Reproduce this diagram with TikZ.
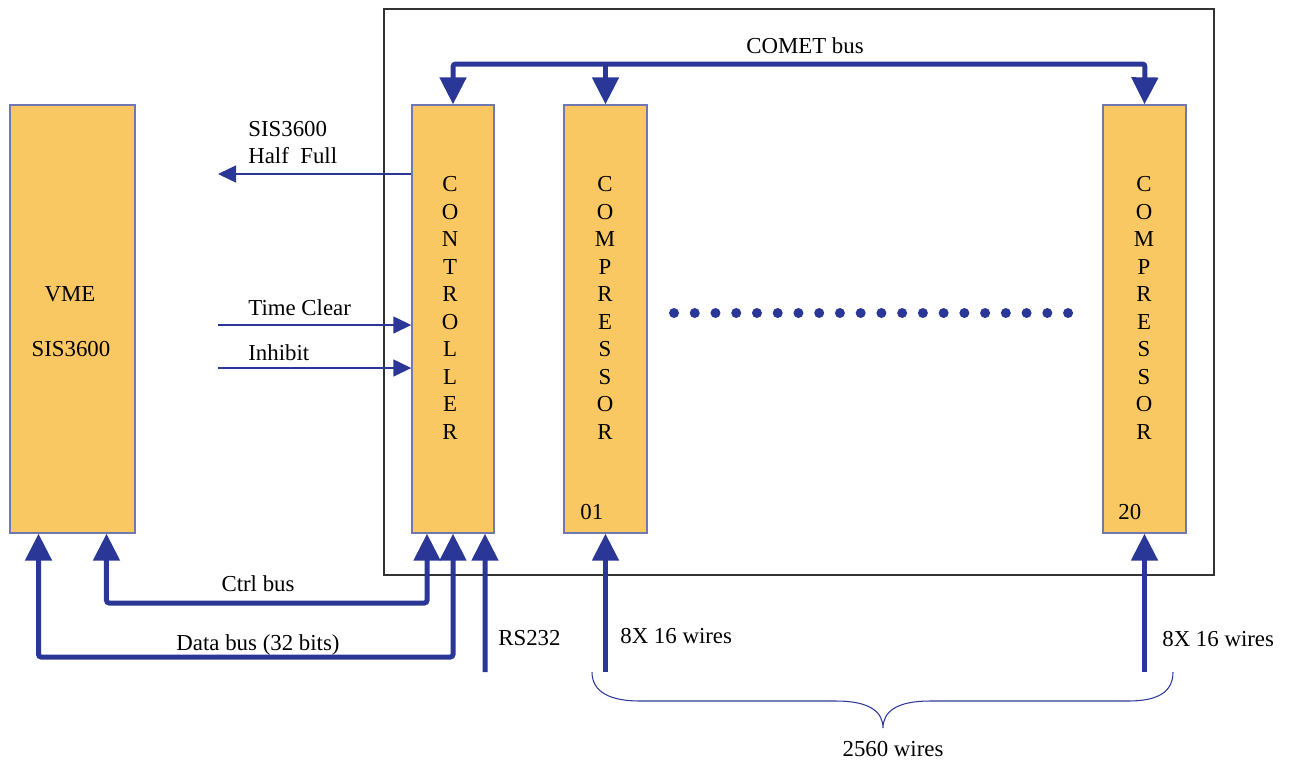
\documentclass[tikz,border=0pt]{standalone}
\usepackage{fontspec}
\setmainfont{Liberation Serif}
\usetikzlibrary{arrows.meta}
\definecolor{boardfill}{HTML}{FAC862}
\definecolor{boardline}{HTML}{7078B0}
\definecolor{busblue}{HTML}{2B3797}
\begin{document}
\begin{tikzpicture}[x=0.02cm, y=-0.02cm,
    font=\fontsize{13}{15.65}\selectfont,
    board/.style={draw=boardline, fill=boardfill, line width=0.8pt, minimum height=8.56cm, inner sep=0pt},
    bigarrow/.style={draw=busblue, line width=0.1cm, rounded corners=1.5pt, >={Triangle[length=0.54cm,width=0.52cm]}},
    sigarrow/.style={draw=busblue, line width=0.8pt, ->, >={Triangle[length=0.36cm,width=0.34cm]}},
    lbl/.style={inner sep=0pt, anchor=west},
    vtext/.style={align=center, inner sep=0pt}]
  \useasboundingbox (0,0) rectangle (1290,762);
  % crate
  \draw[black!80, line width=0.7pt] (384,9) rectangle (1214,575);
  % boards
  \node[board, minimum width=2.5cm] (vme) at (72.5,319) {};
  \node[board, minimum width=1.64cm] (ctrl) at (453,319) {};
  \node[board, minimum width=1.66cm] (c01) at (605.5,319) {};
  \node[board, minimum width=1.66cm] (c20) at (1144.5,319) {};
  \node[vtext] (vmetxt) at (70,294) {VME};
  \node[vtext] (vmesis) at (71,349) {SIS3600};
  \node[vtext] (ctrltxt) at (450,308) {C\\O\\N\\T\\R\\O\\L\\L\\E\\R};
  \node[vtext] (c01txt) at (605,308) {C\\O\\M\\P\\R\\E\\S\\S\\O\\R};
  \node[vtext] (c20txt) at (1144,308) {C\\O\\M\\P\\R\\E\\S\\S\\O\\R};
  \node[lbl] (c01num) at (580,512) {01};
  \node[lbl] (c20num) at (1118,512) {20};
  % COMET bus
  \coordinate (cometR) at (1145,64);
  \draw[bigarrow, <->] (ctrl.north) |- (cometR) -- (c20.north);
  \draw[bigarrow, ->] (c01.north |- cometR) -- (c01.north);
  \node (comet) at (805,46) {COMET bus};
  % control signals
  \coordinate (hf) at (218,174);
  \coordinate (tc) at (218,325);
  \coordinate (inh) at (218,368);
  \draw[sigarrow] (ctrl.west |- hf) -- (hf);
  \draw[sigarrow] (tc) -- (ctrl.west |- tc);
  \draw[sigarrow] (inh) -- (ctrl.west |- inh);
  \node[lbl] (hflbl) at (248,129) {SIS3600};
  \node[lbl] (hflbl2) at (248,156) {Half\ \ Full};
  \node[lbl] (tclbl) at (248,308) {Time Clear};
  \node[lbl] (inhlbl) at (248,353) {Inhibit};
  % dots
  \foreach \i in {0,...,19}
    \fill[busblue] (674+20.74*\i,313) circle (0.1cm);
  % buses to VME
  \coordinate (ctrlbus) at (427,603);
  \coordinate (databus) at (453,657);
  \draw[bigarrow, <->] ([xshift=0.68cm]vme.south) |- (ctrlbus) -- ([xshift=-0.52cm]ctrl.south);
  \draw[bigarrow, <->] ([xshift=-0.68cm]vme.south) |- (databus) -- (ctrl.south);
  \node (ctrlbuslbl) at (258,584) {Ctrl bus};
  \node (databuslbl) at (258,645) {Data bus (32 bits)};
  % RS232
  \coordinate (rs) at (485,672);
  \draw[bigarrow, ->] (rs) -- ([xshift=0.64cm]ctrl.south);
  \node[lbl] (rslbl) at (498,638) {RS232};
  % wires
  \coordinate (w01) at (605.5,672);
  \coordinate (w20) at (1144.5,672);
  \draw[bigarrow, ->] (w01) -- (c01.south);
  \draw[bigarrow, ->] (w20) -- (c20.south);
  \node[lbl] (w01lbl) at (620,636) {8X 16 wires};
  \node[lbl] (w20lbl) at (1162,639) {8X 16 wires};
  % brace
  \draw[busblue, line width=0.6pt] (592,672) .. controls (592,692) and (610,701) .. (640,701)
    -- (836,701) .. controls (870,701) and (883,712) .. (883,728)
    .. controls (883,712) and (896,701) .. (930,701) -- (1128,701)
    .. controls (1158,701) and (1173,692) .. (1173,672);
  \node (total) at (893,749) {2560 wires};
\end{tikzpicture}
\end{document}
